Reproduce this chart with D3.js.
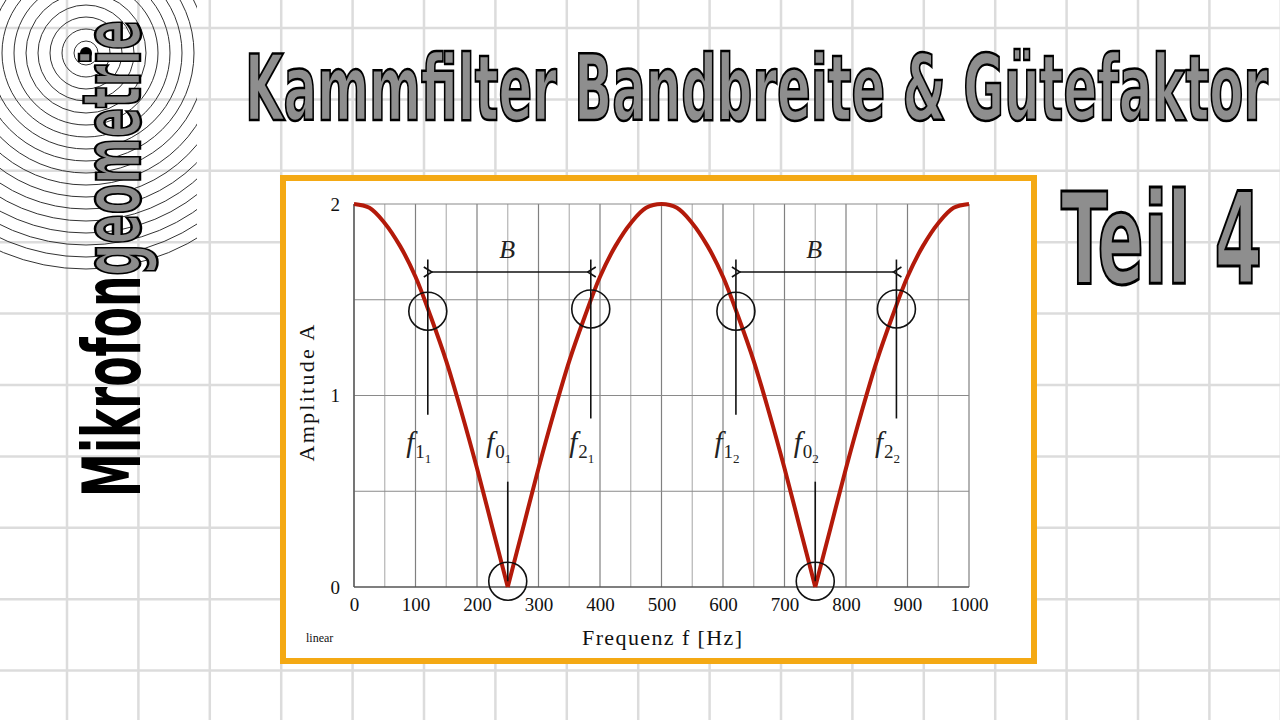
<!DOCTYPE html>
<html>
<head>
<meta charset="utf-8">
<script src="https://cdn.jsdelivr.net/npm/d3@7"></script>
<style>
  body { margin: 0; background: #fff; }
  svg { display: block; }
  .tick text { font-family: "Liberation Serif", serif; font-size: 19px; fill: #111; }
</style>
</head>
<body>
<div id="chart"></div>
<script>
// frequency samples (Hz) and amplitude
var freqs = [0, 25, 50, 75, 100, 125, 150, 175, 200, 225, 250, 275, 300, 325, 350, 375, 400, 425, 450, 475,
             500, 525, 550, 575, 600, 625, 650, 675, 700, 725, 750, 775, 800, 825, 850, 875, 900, 925, 950, 975, 1000];
var amps = [2.00, 1.98, 1.90, 1.78, 1.62, 1.41, 1.18, 0.91, 0.62, 0.31, 0.00, 0.31, 0.62, 0.91, 1.18, 1.41, 1.62, 1.78, 1.90, 1.98,
            2.00, 1.98, 1.90, 1.78, 1.62, 1.41, 1.18, 0.91, 0.62, 0.31, 0.00, 0.31, 0.62, 0.91, 1.18, 1.41, 1.62, 1.78, 1.90, 1.98, 2.00];

var xTicks = [0, 100, 200, 300, 400, 500, 600, 700, 800, 900, 1000];
var yTicks = [0, 1, 2];

// band edges f1, f2 and notch f0 for each notch
var bandLow = [120, 621];
var bandHigh = [385, 882];
var notches = [250, 750];
var edgeAmp = 1.44;
var labelMain = ["f", "f", "f", "f", "f", "f"];
var labelSub = ["1", "0", "2", "1", "0", "2"];
var labelSubSub = ["1", "1", "1", "2", "2", "2"];
var labelFreq = [120, 250, 385, 621, 750, 882];

var svgWidth = 1280;
var svgHeight = 720;

var svg = d3.select("#chart")
  .append("svg")
  .attr("width", svgWidth)
  .attr("height", svgHeight);

// graph paper background
var paper = svg.append("g").attr("stroke", "#dcdcdc").attr("stroke-width", 2.5);
d3.range(-1, 18).forEach(function(k) {
  var x = 67 + 71.4 * k;
  paper.append("line").attr("x1", x).attr("x2", x).attr("y1", 0).attr("y2", svgHeight);
});
d3.range(0, 10).forEach(function(k) {
  var y = 28 + 71.4 * k;
  paper.append("line").attr("x1", 0).attr("x2", svgWidth).attr("y1", y).attr("y2", y);
});

// logo rings
var defs = svg.append("defs");
defs.append("clipPath").attr("id", "logoClip")
  .append("rect").attr("x", 0).attr("y", 0).attr("width", 197).attr("height", 300);

defs.append("marker")
  .attr("id", "arrow")
  .attr("viewBox", "-1 -6 10 12")
  .attr("refX", 0).attr("refY", 0)
  .attr("markerWidth", 10).attr("markerHeight", 12)
  .attr("markerUnits", "userSpaceOnUse")
  .attr("orient", "auto-start-reverse")
  .append("path")
  .attr("d", "M8,-5 L0,0 L8,5")
  .attr("fill", "none")
  .attr("stroke", "#111")
  .attr("stroke-width", 1.6);

var logo = svg.append("g").attr("clip-path", "url(#logoClip)");
d3.range(1, 19).forEach(function(i) {
  logo.append("circle")
    .attr("cx", 86).attr("cy", 53).attr("r", i * 12)
    .attr("fill", "none").attr("stroke", "#333").attr("stroke-width", 1);
});
logo.append("circle").attr("cx", 86).attr("cy", 53).attr("r", 6).attr("fill", "#000");

var logoText = svg.append("text")
  .attr("transform", "translate(140, 497) rotate(-90)")
  .attr("font-family", "'Liberation Sans Narrow', 'DejaVu Sans Condensed', sans-serif")
  .attr("font-weight", "bold")
  .attr("font-size", 81)
  .attr("textLength", 477)
  .attr("lengthAdjust", "spacingAndGlyphs");
logoText.append("tspan").attr("fill", "#000").text("Mikrofon");
logoText.append("tspan").attr("fill", "#8c8c8c").attr("stroke", "#000").attr("stroke-width", 2.5).text("geometrie");

// headline texts
svg.append("text")
  .attr("x", 245).attr("y", 120)
  .attr("font-family", "'Liberation Sans Narrow', 'DejaVu Sans Condensed', sans-serif")
  .attr("font-weight", "bold")
  .attr("font-size", 90)
  .attr("textLength", 1023)
  .attr("lengthAdjust", "spacingAndGlyphs")
  .attr("fill", "#8e8e8e")
  .attr("stroke", "#000")
  .attr("stroke-width", 2.5)
  .text("Kammfilter Bandbreite & Gütefaktor");

svg.append("text")
  .attr("x", 1061).attr("y", 283)
  .attr("font-family", "'Liberation Sans Narrow', 'DejaVu Sans Condensed', sans-serif")
  .attr("font-weight", "bold")
  .attr("font-size", 127)
  .attr("textLength", 201)
  .attr("lengthAdjust", "spacingAndGlyphs")
  .attr("fill", "#8e8e8e")
  .attr("stroke", "#000")
  .attr("stroke-width", 3)
  .text("Teil 4");

// chart frame
svg.append("rect")
  .attr("x", 283).attr("y", 178)
  .attr("width", 751).attr("height", 483)
  .attr("fill", "#fff")
  .attr("stroke", "#f4a914")
  .attr("stroke-width", 6);

var xScale = d3.scaleLinear().domain([0, 1000]).range([354, 969]);
var yScale = d3.scaleLinear().domain([0, 2]).range([587, 204]);

var chartGroup = svg.append("g");

// grid
chartGroup.append("g").selectAll("line")
  .data(d3.range(0, 1001, 50))
  .enter()
  .append("line")
  .attr("x1", d => xScale(d)).attr("x2", d => xScale(d))
  .attr("y1", yScale(2)).attr("y2", yScale(0))
  .attr("stroke", d => d % 100 === 0 ? "#808080" : "#b4b4b4")
  .attr("stroke-width", 1.2);

chartGroup.append("g").selectAll("line")
  .data(d3.range(0.5, 2.01, 0.5))
  .enter()
  .append("line")
  .attr("x1", xScale(0)).attr("x2", xScale(1000))
  .attr("y1", d => yScale(d)).attr("y2", d => yScale(d))
  .attr("stroke", "#8a8a8a")
  .attr("stroke-width", 1.2);

chartGroup.append("line")
  .attr("x1", xScale(0)).attr("x2", xScale(1000))
  .attr("y1", yScale(0)).attr("y2", yScale(0))
  .attr("stroke", "#555").attr("stroke-width", 1.3);
chartGroup.append("line")
  .attr("x1", xScale(0)).attr("x2", xScale(0))
  .attr("y1", yScale(0)).attr("y2", yScale(2))
  .attr("stroke", "#555").attr("stroke-width", 1.3);

// axes (labels only)
var bottomAxis = d3.axisBottom(xScale).tickValues(xTicks).tickSize(0).tickPadding(11)
  .tickFormat(d3.format("d"));
var leftAxis = d3.axisLeft(yScale).tickValues(yTicks).tickSize(0).tickPadding(14)
  .tickFormat(d3.format("d"));

chartGroup.append("g")
  .attr("transform", `translate(0, ${yScale(0)})`)
  .call(bottomAxis)
  .call(g => g.select(".domain").remove());

chartGroup.append("g")
  .attr("transform", `translate(${xScale(0)}, 0)`)
  .call(leftAxis)
  .call(g => g.select(".domain").remove());

// curve, one arch between notches so the V stays sharp
var points = freqs.map((f, i) => ({ f: f, a: amps[i] }));
var arches = [];
var current = [];
points.forEach(function(p) {
  current.push(p);
  if (p.a === 0 && current.length > 1) {
    arches.push(current);
    current = [p];
  }
});
if (current.length > 1) arches.push(current);

var line = d3.line()
  .x(d => xScale(d.f))
  .y(d => yScale(d.a))
  .curve(d3.curveCatmullRom.alpha(0.5));

chartGroup.append("g").selectAll("path")
  .data(arches)
  .enter()
  .append("path")
  .attr("d", line)
  .attr("fill", "none")
  .attr("stroke", "#b31a0a")
  .attr("stroke-width", 4)
  .attr("stroke-linejoin", "round");

// annotations
var ann = chartGroup.append("g").attr("stroke", "#111").attr("fill", "none");

bandLow.forEach(function(f1, i) {
  var f2 = bandHigh[i];
  ann.append("line")
    .attr("x1", xScale(f1)).attr("x2", xScale(f1))
    .attr("y1", yScale(1.71)).attr("y2", yScale(0.9))
    .attr("stroke-width", 1.6);
  ann.append("line")
    .attr("x1", xScale(f2)).attr("x2", xScale(f2))
    .attr("y1", yScale(1.71)).attr("y2", yScale(0.88))
    .attr("stroke-width", 1.6);
  ann.append("circle")
    .attr("cx", xScale(f1)).attr("cy", yScale(edgeAmp))
    .attr("r", 19).attr("stroke-width", 1.6);
  ann.append("circle")
    .attr("cx", xScale(f2)).attr("cy", yScale(edgeAmp + 0.012))
    .attr("r", 19).attr("stroke-width", 1.6);
  ann.append("line")
    .attr("x1", xScale(f1) + 4).attr("x2", xScale(f2) - 3)
    .attr("y1", yScale(1.645)).attr("y2", yScale(1.645))
    .attr("stroke-width", 1.4)
    .attr("marker-start", "url(#arrow)")
    .attr("marker-end", "url(#arrow)");
  chartGroup.append("text")
    .attr("x", xScale((f1 + f2) / 2) - 2)
    .attr("y", yScale(1.72))
    .attr("text-anchor", "middle")
    .attr("font-family", "'Liberation Serif', serif")
    .attr("font-style", "italic")
    .attr("font-size", 26)
    .attr("fill", "#222")
    .text("B");
});

notches.forEach(function(f0) {
  ann.append("line")
    .attr("x1", xScale(f0)).attr("x2", xScale(f0))
    .attr("y1", yScale(0.55)).attr("y2", yScale(0.03))
    .attr("stroke-width", 1.6);
  ann.append("circle")
    .attr("cx", xScale(f0)).attr("cy", yScale(0.03))
    .attr("r", 19).attr("stroke-width", 1.6);
});

labelFreq.forEach(function(f, i) {
  var t = chartGroup.append("text")
    .attr("x", xScale(f) - 9)
    .attr("y", yScale(0.705))
    .attr("text-anchor", "middle")
    .attr("font-family", "'Liberation Serif', serif")
    .attr("fill", "#222");
  t.append("tspan").attr("font-style", "italic").attr("font-size", 29).attr("fill", "#222").text(labelMain[i]);
  t.append("tspan").attr("font-size", 19).attr("fill", "#222").attr("dx", 1).attr("dy", 6).text(labelSub[i]);
  t.append("tspan").attr("font-size", 13).attr("fill", "#222").attr("dy", 5).text(labelSubSub[i]);
});

// axis titles
svg.append("text")
  .attr("transform", "translate(314, 393) rotate(-90)")
  .attr("text-anchor", "middle")
  .attr("font-family", "'Liberation Serif', serif")
  .attr("font-size", 22)
  .attr("textLength", 137)
  .attr("fill", "#111")
  .text("Amplitude A");

svg.append("text")
  .attr("x", 662).attr("y", 645)
  .attr("text-anchor", "middle")
  .attr("font-family", "'Liberation Serif', serif")
  .attr("font-size", 22)
  .attr("textLength", 160)
  .attr("fill", "#111")
  .text("Frequenz f [Hz]");

svg.append("text")
  .attr("x", 306).attr("y", 642)
  .attr("font-family", "'Liberation Serif', serif")
  .attr("font-size", 12)
  .attr("fill", "#111")
  .text("linear");
</script>
</body>
</html>
